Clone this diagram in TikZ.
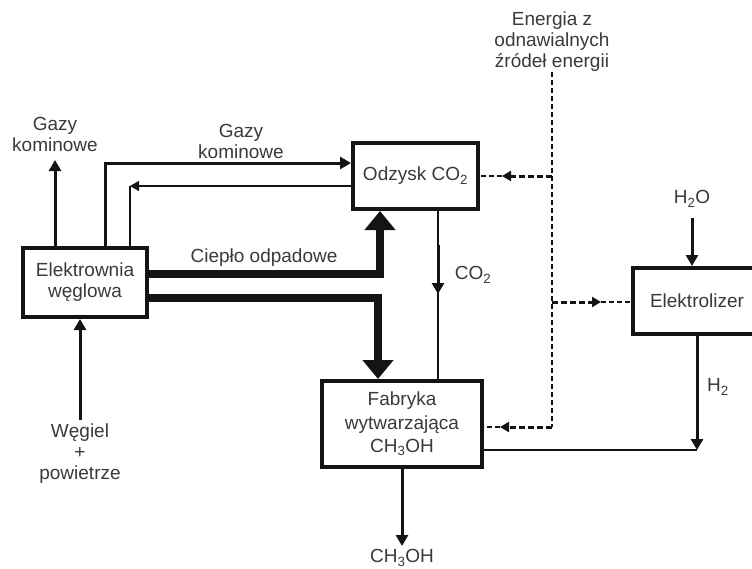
\documentclass[tikz,border=0pt]{standalone}
\usepackage{fontspec}
\setmainfont{Liberation Sans}
\usetikzlibrary{arrows.meta}
\definecolor{ink}{HTML}{141414}
\definecolor{txt}{HTML}{3A3A3A}
\tikzset{
  lbl/.style={text=txt, font=\fontsize{19}{21}\selectfont, align=center, inner sep=0pt},
  boxnode/.style={draw=ink, line width=4pt, fill=white, text=txt, font=\fontsize{19}{21}\selectfont, align=center, inner sep=0pt},
  medline/.style={draw=ink, line width=3pt},
  thinline/.style={draw=ink, line width=1.3pt},
  heatline/.style={draw=ink, line width=8pt, line join=miter},
  medtip/.style={-{Triangle[length=11pt,width=12pt]}},
  smalltip/.style={-{Triangle[length=9pt,width=10pt]}},
  heattip/.style={-{Triangle[length=19pt,width=30pt]}},
  dthick/.style={draw=ink, line width=3pt, dash pattern=on 6pt off 3pt},
  dthin/.style={draw=ink, line width=1.2pt, dash pattern=on 5pt off 3pt},
}
\begin{document}
\begin{tikzpicture}[x=1pt,y=-1pt]
\useasboundingbox[fill=white] (0,0) rectangle (752,568);

% boxes
\node[boxnode, minimum width=124pt, minimum height=69pt] (elek) at (85,282.5) {Elektrownia\\węglowa};
\node[boxnode, minimum width=125pt, minimum height=66pt] (odz) at (415.5,176) {Odzysk CO\textsubscript{2}};
\node[boxnode, minimum width=160pt, minimum height=86pt, font=\fontsize{19}{23.5}\selectfont] (fab) at (402,424) {Fabryka\\wytwarzająca\\CH\textsubscript{3}OH};
\node[boxnode, minimum width=128pt, minimum height=66pt] (ely) at (697,301) {Elektrolizer};

% labels
\node[lbl] (gk1) at (55,134) {Gazy\\kominowe};
\node[lbl] (gk2) at (241,141) {Gazy\\kominowe};
\node[lbl] (cp) at (264,258) {Ciepło odpadowe};
\node[lbl] (co2) at (473,275) {CO\textsubscript{2}};
\node[lbl] (en) at (552,42) {Energia z\\odnawialnych\\źródeł energii};
\node[lbl] (h2o) at (692,199) {H\textsubscript{2}O};
\node[lbl] (h2) at (718,387) {H\textsubscript{2}};
\node[lbl] (ch) at (402,558) {CH\textsubscript{3}OH};
\node[lbl] (wg) at (80,454) {Węgiel\\+\\powietrze};

% coordinates
\coordinate (gzTip) at (55,160);
\coordinate (f1) at (105,163);
\coordinate (r1) at (130,186);
\coordinate (h1) at (380,274);
\coordinate (hh2) at (378,298);
\coordinate (c1) at (438,245);
\coordinate (c2) at (438,294);
\coordinate (dvEnd) at (552,427);
\coordinate (d1) at (552,176);
\coordinate (t1) at (502,176);
\coordinate (d2) at (552,302);
\coordinate (t2) at (601,302);
\coordinate (t3) at (500,427);
\coordinate (h2b) at (697,450);
\coordinate (h2oTop) at (692,218);
\coordinate (chTip) at (402,546);
\coordinate (wgTop) at (80,420);

% flue gases
\draw[medline, medtip] (elek.north -| gzTip) -- (gzTip);
\draw[medline, medtip] (elek.north -| f1) -- (f1) -- (f1 -| odz.west);
\draw[thinline, smalltip] (odz.west |- r1) -- (r1);
\draw[thinline] (r1) -- (elek.north -| r1);

% waste heat
\draw[heatline, heattip] (elek.east |- h1) -- (h1) -- (odz.south -| h1);
\draw[heatline, heattip] (elek.east |- hh2) -- (hh2) -- (fab.north -| hh2);

% CO2
\draw[thinline] (odz.south -| c1) -- (fab.north -| c1);
\draw[medline, medtip] (c1) -- (c2);

% renewable energy
\draw[dthin] (en.south) -- (dvEnd);
\draw[dthick, smalltip] (d1) -- (t1);
\draw[dthin] (t1) -- (odz.east |- t1);
\draw[dthick, smalltip] (d2) -- (t2);
\draw[dthin] (t2) -- (ely.west |- t2);
\draw[dthick, smalltip] (dvEnd) -- (t3);
\draw[dthin] (t3) -- (fab.east |- t3);

% electrolyser
\draw[medline, medtip] (h2oTop) -- (ely.north -| h2oTop);
\draw[medline, medtip] (ely.south -| h2b) -- (h2b);
\draw[thinline] (fab.east |- h2b) -- (h2b);

% outputs / inputs
\draw[medline, medtip] (fab.south -| chTip) -- (chTip);
\draw[medline, medtip] (wgTop) -- (elek.south -| wgTop);
\end{tikzpicture}
\end{document}
